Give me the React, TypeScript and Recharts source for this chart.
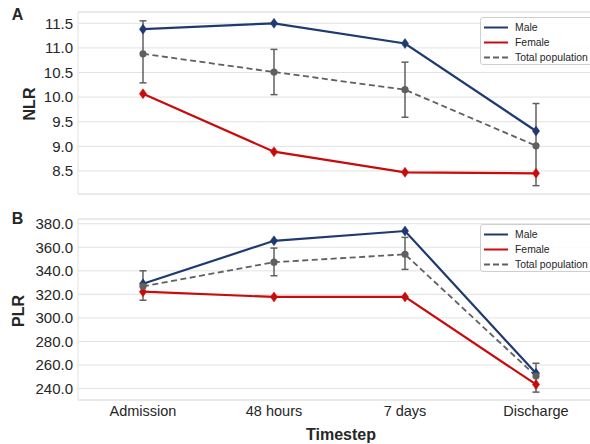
import React from 'react';
import { LineChart, Line, XAxis, YAxis, CartesianGrid, ErrorBar, ReferenceLine } from 'recharts';

const categories = ['Admission', '48 hours', '7 days', 'Discharge'];

const nlrMale = [11.38, 11.5, 11.09, 9.31];
const nlrFemale = [10.07, 8.89, 8.47, 8.45];
const nlrTotal = [10.88, 10.51, 10.15, 9.01];
const nlrTotalLow = [10.29, 10.05, 9.59, 8.2];
const nlrTotalHigh = [11.55, 10.97, 10.71, 9.87];
const nlrTicks = [8.5, 9.0, 9.5, 10.0, 10.5, 11.0, 11.5];

const plrMale = [329.0, 365.5, 373.8, 253.0];
const plrFemale = [322.3, 317.8, 317.8, 243.5];
const plrTotal = [326.8, 347.3, 354.0, 250.6];
const plrTotalLow = [315.0, 335.8, 341.2, 237.0];
const plrTotalHigh = [340.0, 359.3, 368.4, 261.5];
const plrTicks = [240, 260, 280, 300, 320, 340, 360, 380];

const seriesNames = ['Male', 'Female', 'Total population'];

const MALE = '#1f3a70';
const FEMALE = '#c80c0c';
const TOTAL = '#606060';
const GRID = '#e2e2e2';
const TEXT = '#262626';
const FONT = '"Liberation Sans", Arial, sans-serif';

const build = (m: number[], f: number[], t: number[], lo: number[], hi: number[]) =>
  categories.map((c, i) => ({
    t: c,
    male: m[i],
    female: f[i],
    total: t[i],
    err: [t[i] - lo[i], hi[i] - t[i]],
  }));

const nlrData = build(nlrMale, nlrFemale, nlrTotal, nlrTotalLow, nlrTotalHigh);
const plrData = build(plrMale, plrFemale, plrTotal, plrTotalLow, plrTotalHigh);

const diamond = (color: string) => (props: any) => {
  const { cx, cy, index } = props;
  if (cx == null || cy == null) return <g key={`n-${index}`} />;
  const w = 3.6;
  const h = 5;
  return (
    <polygon
      key={`d-${color}-${index}`}
      points={`${cx},${cy - h} ${cx + w},${cy} ${cx},${cy + h} ${cx - w},${cy}`}
      fill={color}
      stroke={color}
      strokeWidth={0.5}
    />
  );
};

const circle = (color: string) => (props: any) => {
  const { cx, cy, index } = props;
  if (cx == null || cy == null) return <g key={`n-${index}`} />;
  return <circle key={`c-${index}`} cx={cx} cy={cy} r={3.6} fill={color} stroke="none" />;
};

const Legend = ({ top }: { top: number }) => {
  const colors = [MALE, FEMALE, TOTAL];
  return (
    <div
      style={{
        position: 'absolute',
        left: 480,
        top,
        width: 130,
        height: 48,
        border: '1px solid #cfcfcf',
        borderRadius: 3,
        background: 'rgba(255,255,255,0.85)',
        boxSizing: 'border-box',
      }}
    >
      {seriesNames.map((n, i) => (
        <div
          key={n}
          style={{
            position: 'absolute',
            left: 0,
            top: 2 + i * 15,
            height: 15,
            display: 'flex',
            alignItems: 'center',
            whiteSpace: 'nowrap',
          }}
        >
          <svg width={34} height={15} style={{ display: 'block' }}>
            <line
              x1={3}
              x2={27}
              y1={7.5}
              y2={7.5}
              stroke={colors[i]}
              strokeWidth={2}
              strokeDasharray={i === 2 ? '6 3' : undefined}
            />
          </svg>
          <span style={{ fontFamily: FONT, fontSize: 10.4, color: TEXT }}>{n}</span>
        </div>
      ))}
    </div>
  );
};

const Title = ({ text, left, top, rotate, size = 16 }: any) => (
  <div
    style={{
      position: 'absolute',
      left,
      top,
      fontFamily: FONT,
      fontWeight: 'bold',
      fontSize: size,
      color: TEXT,
      lineHeight: 1,
      whiteSpace: 'nowrap',
      transform: rotate ? 'translate(-50%, -50%) rotate(-90deg)' : 'translate(-50%, -50%)',
    }}
  >
    {text}
  </div>
);

const renderSeries = () => [
  <Line
    key="male"
    dataKey="male"
    stroke={MALE}
    strokeWidth={2.2}
    dot={diamond(MALE)}
    activeDot={false}
    isAnimationActive={false}
  />,
  <Line
    key="female"
    dataKey="female"
    stroke={FEMALE}
    strokeWidth={2.2}
    dot={diamond(FEMALE)}
    activeDot={false}
    isAnimationActive={false}
  />,
  <Line
    key="total"
    dataKey="total"
    stroke={TOTAL}
    strokeWidth={1.8}
    strokeDasharray="6 3.5"
    dot={circle(TOTAL)}
    activeDot={false}
    isAnimationActive={false}
  >
    <ErrorBar dataKey="err" direction="y" width={3.5} stroke={TOTAL} strokeWidth={1.5} strokeDasharray="0" />
  </Line>,
];

export default function App() {
  const nlrDomain: [number, number] = [8.03, 11.73];
  const plrDomain: [number, number] = [230.3, 384];
  return (
    <div
      style={{
        position: 'absolute',
        left: 0,
        top: 0,
        width: 590,
        height: 444,
        overflow: 'hidden',
        background: '#fff',
      }}
    >
      <div style={{ position: 'absolute', left: 0, top: 0 }}>
        <LineChart width={620} height={200} data={nlrData} margin={{ top: 12, right: 19, bottom: 6, left: 38 }}>
          <CartesianGrid vertical={false} stroke={GRID} strokeWidth={1} />
          <XAxis dataKey="t" hide padding={{ left: 65, right: 65 }} />
          <YAxis
            type="number"
            domain={nlrDomain}
            allowDataOverflow
            ticks={nlrTicks}
            tickFormatter={(v: number) => v.toFixed(1)}
            width={40}
            tickSize={0}
            tickMargin={5}
            tickLine={false}
            axisLine={{ stroke: GRID }}
            tick={{ fill: TEXT, fontSize: 15, fontFamily: FONT }}
          />
          <ReferenceLine y={nlrDomain[0]} stroke={GRID} ifOverflow="visible" />
          <ReferenceLine y={nlrDomain[1]} stroke={GRID} ifOverflow="visible" />
          {renderSeries()}
        </LineChart>
      </div>
      <div style={{ position: 'absolute', left: 0, top: 200 }}>
        <LineChart width={620} height={244} data={plrData} margin={{ top: 19, right: 19, bottom: 0, left: 38 }}>
          <CartesianGrid vertical={false} stroke={GRID} strokeWidth={1} />
          <XAxis
            dataKey="t"
            padding={{ left: 65, right: 65 }}
            height={44}
            tickSize={0}
            tickMargin={5.5}
            tickLine={false}
            axisLine={{ stroke: GRID }}
            interval={0}
            tick={{ fill: TEXT, fontSize: 14.5, fontFamily: FONT }}
          />
          <YAxis
            type="number"
            domain={plrDomain}
            allowDataOverflow
            ticks={plrTicks}
            tickFormatter={(v: number) => v.toFixed(1)}
            width={40}
            tickSize={0}
            tickMargin={5}
            tickLine={false}
            axisLine={{ stroke: GRID }}
            tick={{ fill: TEXT, fontSize: 15, fontFamily: FONT }}
          />
          <ReferenceLine y={plrDomain[1]} stroke={GRID} ifOverflow="visible" />
          {renderSeries()}
        </LineChart>
      </div>
      <Legend top={17} />
      <Legend top={224} />
      <Title text="A" left={17.5} top={15} />
      <Title text="B" left={17.5} top={219} />
      <Title text="NLR" left={30} top={104} rotate />
      <Title text="PLR" left={19} top={311} rotate />
      <Title text="Timestep" left={341} top={435} />
    </div>
  );
}
